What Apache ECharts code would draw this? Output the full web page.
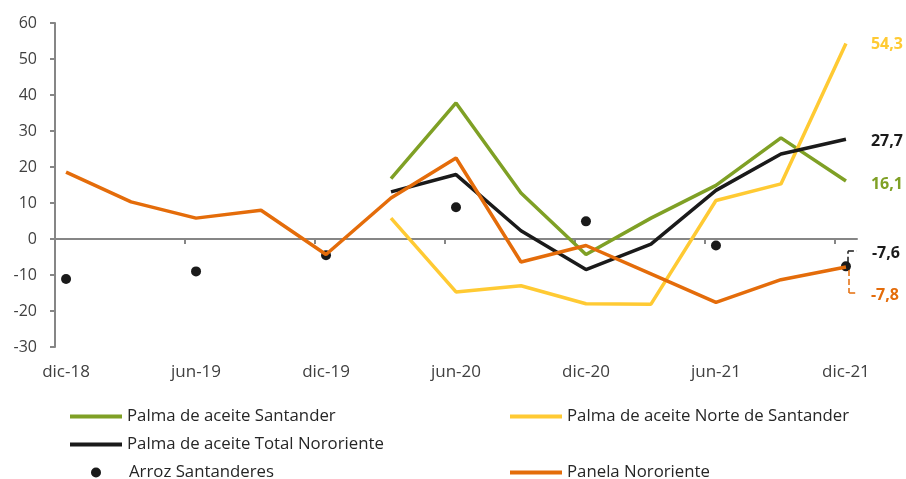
<!DOCTYPE html>
<html>
<head>
<meta charset="utf-8">
<script src="https://cdn.jsdelivr.net/npm/echarts@6/dist/echarts.min.js"></script>
<style>
  html, body { margin: 0; padding: 0; background: #fff; }
  #chart { width: 906px; height: 479px; }
</style>
</head>
<body>
<div id="chart"></div>
<script>
// trimestres dic-18 .. dic-21; el eje x va de 0 a 12.34 y cada trimestre cae en i + 0.17
const quarters = ["dic-18", "mar-19", "jun-19", "sep-19", "dic-19", "mar-20", "jun-20",
  "sep-20", "dic-20", "mar-21", "jun-21", "sep-21", "dic-21"];
const xShift = 0.17;
const labelIdx = [0, 2, 4, 6, 8, 10, 12];
const tickPos = [2, 4, 6, 8, 10, 12];

const palmaSantander = [null, null, null, null, null, 16.8, 37.8, 12.8, -4.3, 5.8, 14.9, 28.1, 16.1];
const palmaNorte = [null, null, null, null, null, 5.8, -14.7, -13.0, -18.0, -18.1, 10.7, 15.3, 54.3];
const palmaTotal = [null, null, null, null, null, 13.1, 17.9, 2.3, -8.5, -1.4, 13.5, 23.6, 27.7];
const arroz = [-11.1, null, -9.0, null, -4.5, null, 8.8, null, 4.9, null, -1.8, null, -7.6];
const panela = [18.6, 10.3, 5.8, 8.0, -4.3, 11.4, 22.5, -6.4, -1.8, -9.7, -17.6, -11.3, -7.8];

const textColor = "#404040";
const axisColor = "#868686";
const font = "Open Sans";
const lineIcon = "path://M0 0H52V4H0Z";

function pairs(arr) {
  const out = [];
  arr.forEach((v, i) => { if (v !== null) out.push([i + xShift, v]); });
  return out;
}
function fmt(v) {
  return String(v).replace(".", ",");
}

function lineSeries(name, arr, color, offY) {
  return {
    name: name,
    type: "line",
    data: pairs(arr),
    symbol: "none",
    clip: false,
    lineStyle: { color: color, width: 3.5 },
    itemStyle: { color: color },
    endLabel: {
      show: true,
      distance: 25,
      offset: [0, offY],
      color: color,
      fontFamily: font,
      fontWeight: "bold",
      fontSize: 16,
      formatter: p => fmt(p.value[1])
    }
  };
}

const myChart = echarts.init(document.getElementById("chart"));

const arrozData = pairs(arroz);
const last = arrozData[arrozData.length - 1];
arrozData[arrozData.length - 1] = {
  value: last,
  label: {
    show: true,
    position: "right",
    distance: 21,
    offset: [0, -13],
    color: "#1a1a1a",
    fontFamily: font,
    fontWeight: "bold",
    fontSize: 16,
    formatter: p => fmt(p.value[1])
  }
};

const xEnd = 12 + 2 * xShift;

const panelaSeries = lineSeries("Panela Nororiente", panela, "#E46C0A", 28);
panelaSeries.markLine = {
  silent: true,
  symbol: "none",
  label: { show: false },
  lineStyle: { color: "#E46C0A", type: "dashed", width: 1.5 },
  data: [
    [{ coord: [12.22, -8.6] }, { coord: [12.22, -15.0] }],
    [{ coord: [12.22, -15.0] }, { coord: [xEnd, -15.0] }]
  ]
};

const legendText = { color: "#262626", fontSize: 16.8, fontFamily: font, lineHeight: 14 };

function legendBox(items, left, top, extra) {
  return Object.assign({
    data: items,
    orient: "vertical", left: left, top: top, padding: 0,
    itemWidth: 52, itemHeight: 14, itemGap: 11,
    textStyle: legendText
  }, extra || {});
}

const option = {
  animation: false,
  textStyle: { fontFamily: font },
  grid: { left: 55, right: 49, top: 23, bottom: 132, outerBoundsMode: "none", containLabel: false },
  xAxis: {
    type: "value",
    min: 0,
    max: xEnd,
    splitLine: { show: false },
    axisLine: { onZero: true, lineStyle: { color: axisColor, width: 2 } },
    axisTick: { show: true, customValues: tickPos, length: 5, lineStyle: { color: axisColor, width: 2 } },
    axisLabel: {
      customValues: labelIdx.map(i => i + xShift),
      formatter: v => quarters[Math.round(v - xShift)],
      margin: 17,
      color: textColor,
      fontSize: 17,
      fontFamily: font
    }
  },
  yAxis: {
    type: "value",
    min: -30,
    max: 60,
    interval: 10,
    splitLine: { show: false },
    axisLine: { show: true, onZero: true, lineStyle: { color: axisColor, width: 2 } },
    axisTick: { show: true, length: 5, lineStyle: { color: axisColor, width: 2 } },
    axisLabel: { margin: 18, color: textColor, fontSize: 16, fontFamily: font }
  },
  legend: [
    legendBox([
      { name: "Palma de aceite Santander", icon: lineIcon },
      { name: "Palma de aceite Total Nororiente", icon: lineIcon }
    ], 70, 408),
    legendBox(["Arroz Santanderes"], 91, 464, {
      itemWidth: 10, itemHeight: 10,
      textStyle: Object.assign({ padding: [0, 0, 0, 23] }, legendText)
    }),
    legendBox([{ name: "Palma de aceite Norte de Santander", icon: lineIcon }], 510, 408),
    legendBox([{ name: "Panela Nororiente", icon: lineIcon }], 510, 464)
  ],
  series: [
    lineSeries("Palma de aceite Santander", palmaSantander, "#7FA025", 3),
    lineSeries("Palma de aceite Norte de Santander", palmaNorte, "#FFCA33", 1),
    lineSeries("Palma de aceite Total Nororiente", palmaTotal, "#1a1a1a", 2),
    {
      name: "Arroz Santanderes",
      type: "scatter",
      data: arrozData,
      symbol: "circle",
      symbolSize: 10,
      clip: false,
      itemStyle: { color: "#1a1a1a", opacity: 1 },
      markLine: {
        silent: true,
        symbol: "none",
        label: { show: false },
        lineStyle: { color: "#1a1a1a", type: "dashed", width: 1.5 },
        data: [
          // línea del eje vertical
          { xAxis: 0, lineStyle: { color: axisColor, type: "solid", width: 2 } },
          [{ coord: [12.2, -6.6] }, { coord: [12.2, -3.4] }],
          [{ coord: [12.2, -3.4] }, { coord: [xEnd, -3.4] }]
        ]
      }
    },
    panelaSeries
  ]
};

myChart.setOption(option);
window.addEventListener("resize", function () {
  myChart.resize();
});
</script>
</body>
</html>
